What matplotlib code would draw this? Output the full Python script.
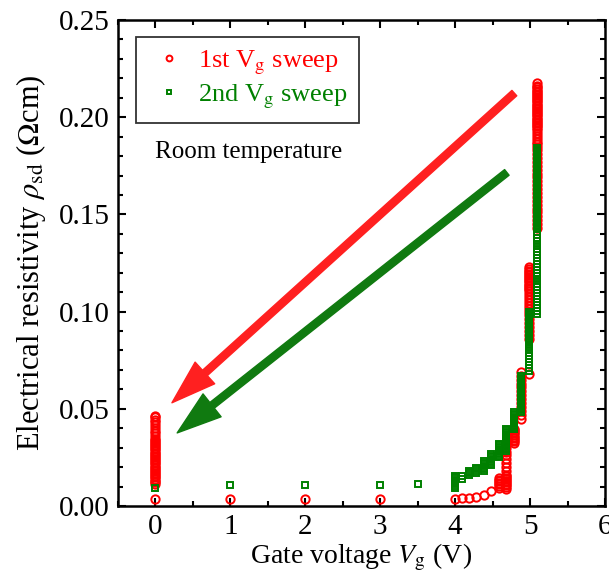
import numpy as np
import matplotlib
matplotlib.use('Agg')
import matplotlib.pyplot as plt
from matplotlib.patches import FancyArrowPatch
from matplotlib.ticker import MultipleLocator, FormatStrFormatter

plt.rcParams['font.family'] = ['Liberation Serif', 'DejaVu Serif']
plt.rcParams['mathtext.fontset'] = 'stix'

# gate voltage steps and the resistivity readings taken at each step
first_v = [0, 1, 2, 3, 4.00, 4.09, 4.18, 4.28, 4.38, 4.48, 4.58, 4.68, 4.78, 4.88, 4.98, 5.09, 0]
first_rho = [
    [0.0038],
    [0.0038],
    [0.0038],
    [0.0038],
    [0.0036],
    [0.0040],
    [0.0043],
    [0.0048],
    [0.0058],
    [0.0076],
    [0.0095, 0.0103, 0.0111, 0.0119, 0.0127, 0.0135, 0.0142],
    [0.0090, 0.0098, 0.0106, 0.0114, 0.0122, 0.0130, 0.0138, 0.0146, 0.0154, 0.0162,
     0.0180, 0.0200, 0.0220, 0.0240, 0.0260, 0.0280, 0.0300],
    [0.0325, 0.0333, 0.0341, 0.0349, 0.0357, 0.0365, 0.0373, 0.0381, 0.0389, 0.0395],
    [0.0450, 0.0470, 0.0490, 0.0510, 0.0530, 0.0550, 0.0570, 0.0590, 0.0610, 0.0630,
     0.0650, 0.0670, 0.0690],
    [0.0680, 0.0860, 0.0880, 0.0900, 0.0920, 0.0940, 0.0960, 0.0980, 0.1000, 0.1015,
     0.1030, 0.1045, 0.1060, 0.1075, 0.1090, 0.1105, 0.1115, 0.1123, 0.1131, 0.1139,
     0.1147, 0.1155, 0.1163, 0.1171, 0.1179, 0.1187, 0.1195, 0.1203, 0.1211, 0.1219,
     0.1230],
    [0.143, 0.145, 0.147, 0.149, 0.151, 0.153, 0.155, 0.157, 0.159, 0.161,
     0.163, 0.165, 0.167, 0.169, 0.171, 0.173, 0.175, 0.177, 0.179, 0.181, 0.183,
     0.1845, 0.1860, 0.1875, 0.1890, 0.1905, 0.1920, 0.1935,
     0.1945, 0.1953, 0.1961, 0.1969, 0.1977, 0.1985, 0.1993, 0.2001, 0.2009, 0.2017,
     0.2025, 0.2033, 0.2041, 0.2049, 0.2057, 0.2065, 0.2073, 0.2081, 0.2089, 0.2097,
     0.2105, 0.2113, 0.2121, 0.2129, 0.2137, 0.2145, 0.2153, 0.2161, 0.2175],
    [0.0115, 0.0123, 0.0131, 0.0139, 0.0147, 0.0155, 0.0163, 0.0171, 0.0179, 0.0187,
     0.0195, 0.0203, 0.0211, 0.0219, 0.0227, 0.0235, 0.0243, 0.0251, 0.0259, 0.0267,
     0.0275, 0.0283, 0.0291, 0.0299, 0.0307, 0.0315, 0.0323, 0.0331, 0.0339, 0.0347,
     0.0360, 0.0374, 0.0388, 0.0402, 0.0416, 0.0430, 0.0444, 0.0456, 0.0464],
]

second_v = [0, 1, 2, 3, 3.5, 4.00, 4.09, 4.18, 4.28, 4.38, 4.48, 4.58, 4.68, 4.78, 4.88, 4.98, 5.09]
second_rho = [
    [0.0093],
    [0.0108],
    [0.0108],
    [0.0108],
    [0.0115],
    [0.0095, 0.0103, 0.0111, 0.0119, 0.0127, 0.0135, 0.0143, 0.0151, 0.0155],
    [0.0140, 0.0153],
    [0.0160, 0.0168, 0.0176, 0.0182],
    [0.0172, 0.0180, 0.0188, 0.0196],
    [0.0182, 0.0190, 0.0198, 0.0206, 0.0214, 0.0222, 0.0230],
    [0.0210, 0.0218, 0.0226, 0.0234, 0.0242, 0.0250, 0.0258, 0.0266],
    [0.0250, 0.0258, 0.0266, 0.0274, 0.0282, 0.0290, 0.0298, 0.0306, 0.0314, 0.0320],
    [0.0285, 0.0293, 0.0301, 0.0309, 0.0317, 0.0325, 0.0333, 0.0341, 0.0349, 0.0357,
     0.0365, 0.0373, 0.0381, 0.0389, 0.0397],
    [0.0395, 0.0403, 0.0411, 0.0419, 0.0427, 0.0435, 0.0443, 0.0451, 0.0459, 0.0467,
     0.0475, 0.0482],
    [0.0485, 0.0493, 0.0501, 0.0509, 0.0517, 0.0525, 0.0533, 0.0541, 0.0549, 0.0557,
     0.0565, 0.0573, 0.0581, 0.0589, 0.0597, 0.0605, 0.0613, 0.0621, 0.0629, 0.0637,
     0.0645, 0.0653, 0.0661, 0.0669],
    [0.0695, 0.0710, 0.0725, 0.0740, 0.0755, 0.0770, 0.0785, 0.0800, 0.0815, 0.0830,
     0.0845, 0.0853, 0.0861, 0.0869, 0.0877, 0.0885, 0.0893, 0.0901, 0.0909, 0.0917,
     0.0925, 0.0933, 0.0941, 0.0949, 0.0957, 0.0965, 0.0973, 0.0981, 0.0989, 0.0997],
    [0.0990, 0.1005, 0.1020, 0.1035, 0.1050, 0.1065, 0.1080, 0.1095, 0.1110, 0.1125,
     0.1140, 0.1155, 0.1170, 0.1185, 0.1200, 0.1215, 0.1230, 0.1245, 0.1260, 0.1275,
     0.1290, 0.1305, 0.1320, 0.1335, 0.1350, 0.1365, 0.1380, 0.1395, 0.1410, 0.1425,
     0.1433, 0.1441, 0.1449, 0.1457, 0.1465, 0.1473, 0.1481, 0.1489, 0.1497, 0.1505,
     0.1513, 0.1521, 0.1529, 0.1537, 0.1545, 0.1553, 0.1561, 0.1569, 0.1577, 0.1585,
     0.1593, 0.1601, 0.1609, 0.1617, 0.1625, 0.1633, 0.1641, 0.1649, 0.1657, 0.1665,
     0.1673, 0.1681, 0.1689, 0.1697, 0.1705, 0.1713, 0.1721, 0.1729, 0.1737, 0.1745,
     0.1753, 0.1761, 0.1769, 0.1777, 0.1785, 0.1793, 0.1801, 0.1809, 0.1817, 0.1825,
     0.1833, 0.1841],
]

# arrows (tail start, head tip) in data units
red_arrow = [(4.79, 0.2124), (0.22, 0.0531)]
green_arrow = [(4.69, 0.1716), (0.29, 0.0376)]


def flatten(vs, rhos):
    x = np.concatenate([[v] * len(r) for v, r in zip(vs, rhos)])
    y = np.concatenate(rhos)
    return x, y


x1, y1 = flatten(first_v, first_rho)
x2, y2 = flatten(second_v, second_rho)

fig = plt.figure(figsize=(6.09, 5.80), dpi=100)
ax = fig.add_axes([118 / 609, 74 / 580, 487 / 609, 486 / 580])

ax.plot(x1, y1, linestyle='none', marker='o', ms=6.0, mfc='none', mec='red', mew=1.4,
        label=r'1st V$_{\rm g}$ sweep')
ax.plot(x2, y2, linestyle='none', marker='s', ms=4.5, mfc='none', mec='green', mew=1.4,
        label=r'2nd V$_{\rm g}$ sweep')

for (start, tip), col in [(red_arrow, '#ff2020'), (green_arrow, '#107a10')]:
    arr = FancyArrowPatch(start, tip, arrowstyle='simple,head_length=1.6,head_width=1.05,tail_width=0.26',
                          mutation_scale=20, color=col, shrinkA=0, shrinkB=0, zorder=3)
    ax.add_patch(arr)

ax.set_xlim(-0.5, 6)
ax.set_ylim(0, 0.25)
ax.xaxis.set_major_locator(MultipleLocator(1))
ax.xaxis.set_minor_locator(MultipleLocator(0.5))
ax.yaxis.set_major_locator(MultipleLocator(0.05))
ax.yaxis.set_minor_locator(MultipleLocator(0.01))
ax.yaxis.set_major_formatter(FormatStrFormatter('%.2f'))
ax.tick_params(which='both', direction='in', top=True, right=True, width=1.5, labelsize=21, pad=6)
ax.tick_params(which='major', length=6)
ax.tick_params(which='minor', length=3.5)
for sp in ax.spines.values():
    sp.set_linewidth(1.8)

ax.set_xlabel(r'Gate voltage $V_{\rm g}$ (V)', fontsize=20, labelpad=1)
ax.set_ylabel(r'Electrical resistivity $\rho_{\rm sd}$ ($\Omega$cm)', fontsize=22, labelpad=8)

ax.text(0.076, 0.728, 'Room temperature', transform=ax.transAxes, fontsize=18, va='center', ha='left')

leg = ax.legend(loc='upper left', bbox_to_anchor=(0.037, 0.965), fontsize=19, frameon=True,
                fancybox=False, edgecolor='black', numpoints=1, handlelength=1.6, markerscale=0.7,
                handletextpad=0.3, borderpad=0.45, labelspacing=0.2, borderaxespad=0,
                labelcolor=['red', 'green'])
leg.get_frame().set_linewidth(1.3)

fig.savefig('out.png', dpi=100)
